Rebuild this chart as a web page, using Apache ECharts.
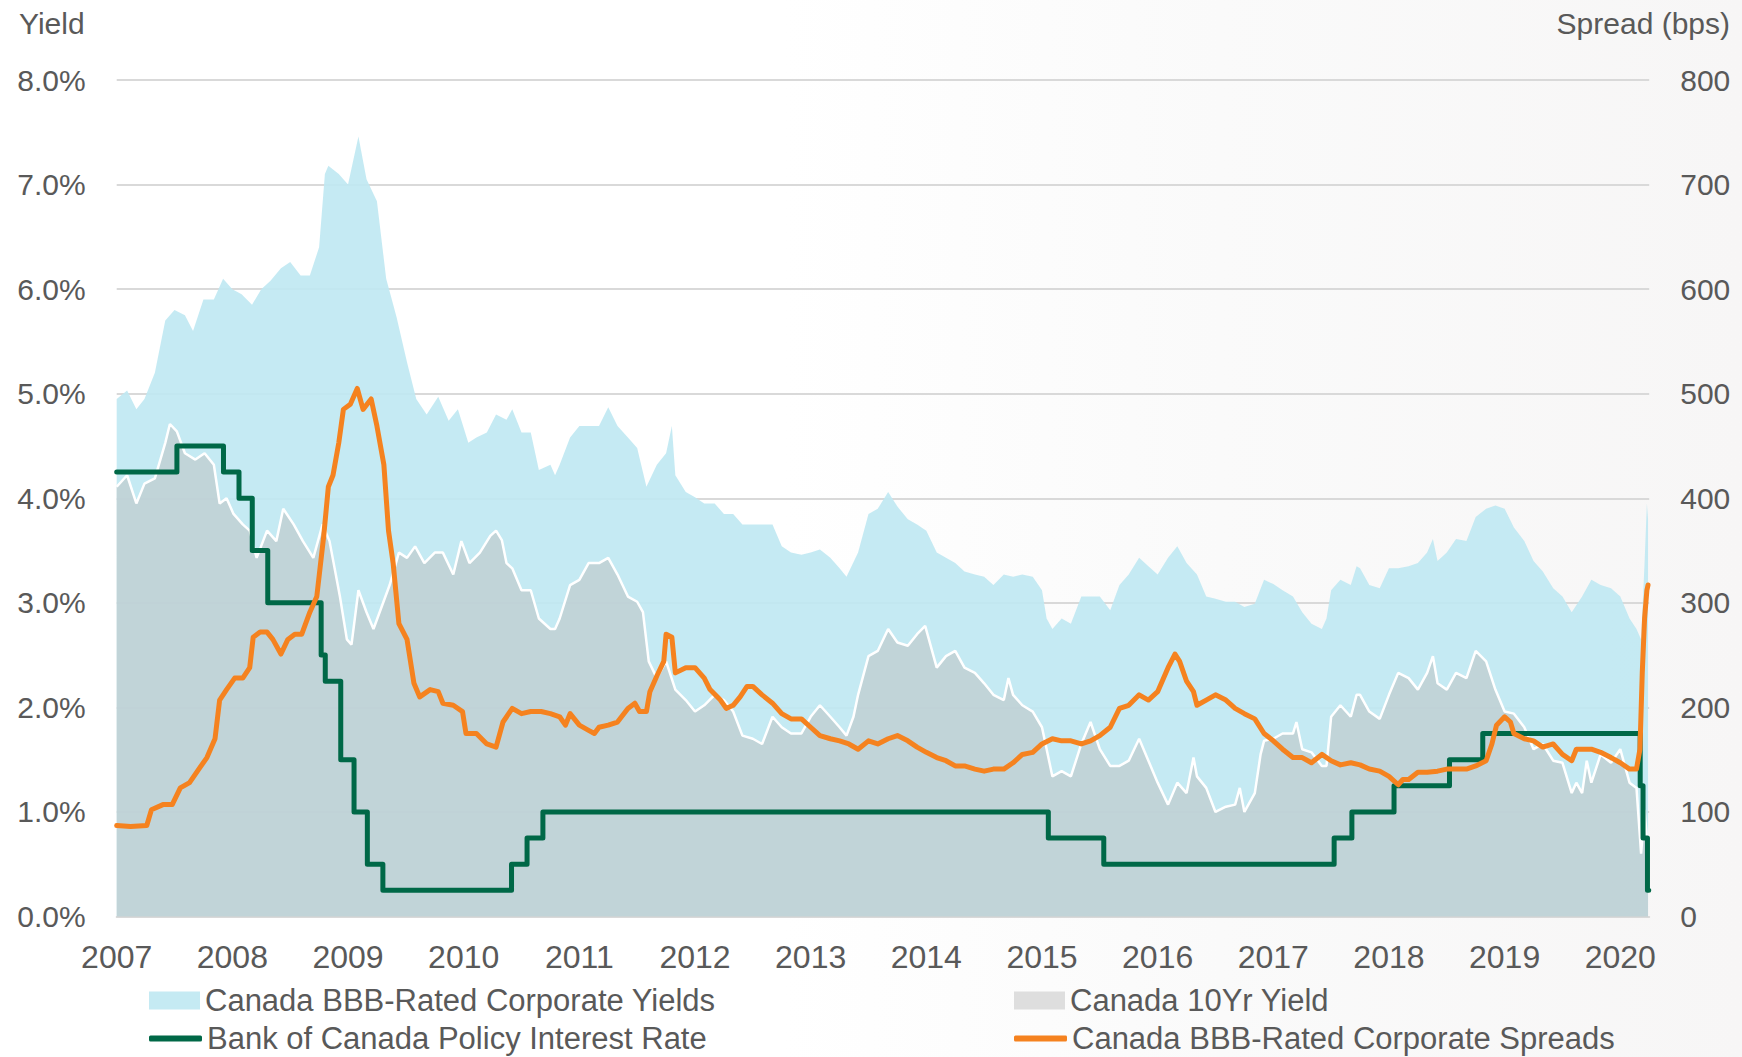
<!DOCTYPE html>
<html><head><meta charset="utf-8">
<script src="https://cdn.jsdelivr.net/npm/echarts@6/dist/echarts.min.js"></script>
<style>html,body{margin:0;padding:0;background:#fff}#c{width:1742px;height:1057px}</style>
</head><body><div id="c"></div>
<script>
// ---- DATA (x values are decimal years) ----
const bbbYears = [2007.00,2007.09,2007.17,2007.24,2007.33,2007.42,2007.50,2007.59,2007.66,2007.75,2007.84,2007.92,
2008.00,2008.08,2008.17,2008.25,2008.33,2008.42,2008.50,2008.59,2008.67,2008.75,2008.80,2008.83,2008.92,
2009.00,2009.09,2009.16,2009.25,2009.33,2009.42,2009.51,2009.59,2009.68,2009.78,2009.87,2009.95,
2010.04,2010.11,2010.20,2010.28,2010.37,2010.42,2010.50,2010.58,2010.65,2010.75,2010.79,2010.83,2010.92,
2011.00,2011.08,2011.17,2011.25,2011.33,2011.42,2011.50,2011.58,2011.67,2011.75,2011.80,2011.83,2011.92,
2012.00,2012.08,2012.17,2012.25,2012.33,2012.41,2012.50,2012.58,2012.67,2012.75,2012.83,2012.92,
2013.00,2013.08,2013.17,2013.25,2013.31,2013.41,2013.50,2013.58,2013.67,2013.75,2013.84,2013.92,
2014.00,2014.09,2014.17,2014.25,2014.33,2014.42,2014.50,2014.58,2014.67,2014.75,2014.83,2014.92,
2015.00,2015.04,2015.09,2015.17,2015.25,2015.34,2015.42,2015.50,2015.59,2015.67,2015.75,2015.84,2015.92,
2016.00,2016.09,2016.17,2016.25,2016.34,2016.42,2016.50,2016.59,2016.67,2016.75,2016.84,2016.92,
2017.00,2017.08,2017.17,2017.25,2017.33,2017.42,2017.46,2017.50,2017.58,2017.67,2017.72,2017.75,2017.83,2017.92,
2018.00,2018.08,2018.17,2018.25,2018.33,2018.38,2018.42,2018.50,2018.58,2018.67,2018.75,2018.84,2018.92,
2019.00,2019.08,2019.17,2019.25,2019.33,2019.42,2019.50,2019.58,2019.67,2019.75,2019.83,2019.92,
2020.00,2020.08,2020.14,2020.18,2020.21,2020.23,2020.24];
const bbbYield = [4.95,5.03,4.85,4.95,5.2,5.7,5.8,5.75,5.6,5.9,5.9,6.1,
6.0,5.95,5.85,6.0,6.08,6.2,6.26,6.13,6.13,6.4,7.1,7.18,7.1,
7.0,7.46,7.05,6.84,6.1,5.73,5.3,4.95,4.8,4.97,4.74,4.85,
4.53,4.58,4.63,4.8,4.75,4.85,4.63,4.63,4.27,4.32,4.22,4.32,4.58,
4.69,4.69,4.69,4.87,4.69,4.58,4.48,4.11,4.32,4.43,4.69,4.22,4.06,
4.01,3.95,3.95,3.85,3.85,3.75,3.75,3.75,3.75,3.54,3.48,3.46,
3.48,3.51,3.43,3.33,3.25,3.48,3.85,3.9,4.06,3.92,3.8,3.75,
3.69,3.48,3.43,3.38,3.3,3.27,3.25,3.17,3.27,3.25,3.27,3.25,
3.12,2.85,2.75,2.85,2.8,3.06,3.06,3.06,2.93,3.17,3.27,3.43,3.35,
3.27,3.43,3.54,3.38,3.27,3.06,3.04,3.01,3.01,2.96,2.99,3.22,
3.18,3.12,3.06,2.91,2.8,2.75,2.85,3.12,3.22,3.17,3.35,3.33,3.17,3.14,
3.33,3.33,3.35,3.38,3.48,3.61,3.4,3.48,3.61,3.59,3.82,3.9,3.93,
3.9,3.72,3.59,3.4,3.3,3.14,3.06,2.91,3.06,3.22,3.17,3.14,
3.06,2.85,2.75,2.65,3.38,3.95,3.8];

const tenYrYears = [2007.00,2007.09,2007.17,2007.24,2007.33,2007.42,2007.46,2007.52,2007.59,2007.68,2007.76,2007.84,2007.89,2007.95,
2008.01,2008.09,2008.15,2008.21,2008.30,2008.38,2008.44,2008.53,2008.61,2008.70,2008.78,2008.84,2008.93,2008.99,
2009.03,2009.09,2009.16,2009.22,2009.29,2009.36,2009.44,2009.51,2009.58,2009.66,2009.75,2009.82,2009.91,2009.98,
2010.05,2010.14,2010.23,2010.28,2010.33,2010.37,2010.42,2010.50,2010.58,2010.65,2010.75,2010.79,2010.83,2010.92,
2011.00,2011.08,2011.17,2011.25,2011.33,2011.42,2011.50,2011.55,2011.60,2011.67,2011.75,2011.83,2011.92,
2012.00,2012.08,2012.17,2012.25,2012.33,2012.41,2012.50,2012.58,2012.67,2012.75,2012.83,2012.92,
2013.00,2013.08,2013.17,2013.25,2013.31,2013.37,2013.41,2013.50,2013.58,2013.67,2013.75,2013.84,2013.92,2013.99,
2014.09,2014.17,2014.25,2014.33,2014.42,2014.50,2014.58,2014.67,2014.71,2014.75,2014.83,2014.92,
2015.00,2015.09,2015.17,2015.25,2015.34,2015.42,2015.50,2015.59,2015.67,2015.75,2015.84,2015.92,
2016.00,2016.09,2016.17,2016.25,2016.31,2016.34,2016.42,2016.50,2016.59,2016.67,2016.71,2016.75,2016.84,2016.89,2016.92,
2017.00,2017.08,2017.17,2017.20,2017.25,2017.33,2017.42,2017.46,2017.50,2017.58,2017.67,2017.72,2017.75,2017.83,2017.92,
2018.00,2018.08,2018.17,2018.25,2018.33,2018.38,2018.42,2018.50,2018.58,2018.67,2018.75,2018.84,2018.92,
2019.00,2019.08,2019.17,2019.25,2019.33,2019.42,2019.50,2019.58,2019.62,2019.67,2019.71,2019.75,2019.83,2019.92,
2020.00,2020.08,2020.14,2020.18,2020.21,2020.23,2020.24];
const tenYrYield = [4.11,4.22,3.95,4.14,4.19,4.53,4.71,4.64,4.43,4.37,4.43,4.32,3.95,4.0,
3.85,3.75,3.69,3.43,3.69,3.59,3.9,3.75,3.59,3.43,3.75,3.59,3.06,2.65,
2.6,3.12,2.91,2.75,2.96,3.17,3.48,3.43,3.54,3.38,3.48,3.48,3.27,3.59,
3.38,3.48,3.64,3.69,3.6,3.38,3.33,3.12,3.12,2.85,2.75,2.75,2.85,3.17,
3.22,3.38,3.38,3.43,3.27,3.06,3.01,2.91,2.44,2.28,2.44,2.17,2.07,
1.96,2.02,2.12,2.07,1.96,1.73,1.7,1.65,1.91,1.81,1.75,1.75,
1.91,2.02,1.91,1.81,1.73,1.91,2.12,2.49,2.54,2.75,2.62,2.59,2.7,2.78,
2.38,2.49,2.54,2.38,2.33,2.23,2.12,2.07,2.28,2.12,2.02,1.96,
1.81,1.34,1.39,1.34,1.65,1.86,1.6,1.44,1.44,1.49,1.7,1.49,
1.28,1.07,1.28,1.18,1.52,1.34,1.23,1.0,1.05,1.07,1.23,1.0,1.18,1.55,1.68,
1.7,1.75,1.75,1.86,1.6,1.57,1.44,1.44,1.91,2.02,1.91,2.12,2.12,1.96,1.89,
2.12,2.33,2.28,2.17,2.33,2.49,2.23,2.17,2.33,2.28,2.54,2.44,2.17,
1.96,1.94,1.81,1.6,1.65,1.49,1.47,1.18,1.28,1.18,1.49,1.28,1.55,1.47,
1.6,1.28,1.23,0.6,1.02,0.75,0.71];

const spreadYears = [2007.00,2007.12,2007.26,2007.30,2007.40,2007.48,2007.55,2007.63,2007.71,2007.78,2007.85,2007.89,2007.95,
2008.02,2008.09,2008.15,2008.18,2008.24,2008.30,2008.35,2008.42,2008.48,2008.54,2008.60,2008.67,2008.73,2008.79,2008.83,2008.87,2008.92,2008.96,
2009.02,2009.08,2009.13,2009.20,2009.25,2009.31,2009.35,2009.39,2009.44,2009.51,2009.57,2009.62,2009.71,2009.78,2009.82,2009.91,2009.99,
2010.02,2010.11,2010.20,2010.28,2010.34,2010.42,2010.50,2010.58,2010.67,2010.75,2010.83,2010.88,2010.92,
2011.00,2011.08,2011.13,2011.17,2011.25,2011.33,2011.42,2011.48,2011.52,2011.58,2011.61,2011.67,2011.73,2011.75,2011.80,2011.83,2011.92,
2012.00,2012.08,2012.13,2012.22,2012.27,2012.33,2012.39,2012.45,2012.50,2012.58,2012.67,2012.75,2012.83,2012.92,
2013.00,2013.08,2013.17,2013.25,2013.33,2013.41,2013.50,2013.58,2013.67,2013.75,2013.84,2013.92,
2014.00,2014.09,2014.17,2014.25,2014.33,2014.42,2014.50,2014.58,2014.67,2014.75,2014.83,2014.92,
2015.00,2015.09,2015.17,2015.25,2015.34,2015.42,2015.50,2015.59,2015.67,2015.75,2015.84,2015.92,
2016.00,2016.09,2016.15,2016.19,2016.25,2016.31,2016.34,2016.42,2016.50,2016.59,2016.67,2016.75,2016.84,2016.92,
2017.00,2017.08,2017.17,2017.25,2017.33,2017.42,2017.50,2017.58,2017.67,2017.75,2017.83,2017.92,
2018.00,2018.08,2018.12,2018.17,2018.25,2018.33,2018.42,2018.50,2018.58,2018.67,2018.75,2018.84,2018.89,2018.93,
2019.00,2019.05,2019.08,2019.17,2019.25,2019.33,2019.42,2019.50,2019.58,2019.62,2019.67,2019.75,2019.83,2019.92,
2020.00,2020.08,2020.14,2020.17,2020.19,2020.21,2020.23,2020.24];
const spreadBps = [87,86,87,102,107,107,123,128,141,152,170,207,217,
228,228,238,267,272,272,265,251,265,270,270,291,306,364,411,422,453,485,
490,505,485,495,469,432,369,338,280,265,223,210,217,215,204,202,196,
175,175,165,162,186,199,194,196,196,194,191,183,194,
183,178,175,181,183,186,199,204,196,196,215,230,244,270,267,233,238,
238,228,217,207,199,202,210,220,220,212,204,194,189,189,
181,173,170,168,165,160,168,165,170,173,168,162,
157,152,149,144,144,141,139,141,141,147,155,157,
165,170,168,168,165,168,173,181,199,202,212,207,
215,238,251,244,225,215,202,207,212,207,199,194,189,175,
168,160,152,152,147,155,149,145,147,145,141,139,
134,126,131,131,138,138,139,141,141,141,144,149,165,183,
191,186,175,170,168,162,165,155,149,160,160,160,157,152,
147,141,141,160,233,285,312,317];

const policyDates = ['2007-01-01','2007-07-10','2007-12-04','2008-01-22','2008-03-04','2008-04-22','2008-10-08','2008-10-21',
'2008-12-09','2009-01-20','2009-03-03','2009-04-21','2010-06-01','2010-07-20','2010-09-08','2015-01-21','2015-07-15',
'2017-07-12','2017-09-06','2018-01-17','2018-07-11','2018-10-24','2020-03-04','2020-03-13','2020-03-27','2020-03-31'];
const policyRate = [4.25,4.5,4.25,4.0,3.5,3.0,2.5,2.25,1.5,1.0,0.5,0.25,0.5,0.75,1.0,0.75,0.5,0.75,1.0,1.25,1.5,1.75,1.25,0.75,0.25,0.25];

const yearTickLabels = [2007,2008,2009,2010,2011,2012,2013,2014,2015,2016,2017,2018,2019,2020];
const seriesNames = ['Canada BBB-Rated Corporate Yields','Canada 10Yr Yield','Bank of Canada Policy Interest Rate','Canada BBB-Rated Corporate Spreads'];

// ---- helpers ----
function toYear(s){
  const [y,m,d] = s.split('-').map(Number);
  const start = Date.UTC(y,0,1), end = Date.UTC(y+1,0,1);
  return y + (Date.UTC(y,m-1,d) - start)/(end-start);
}
const zip = (xs, ys) => xs.map((x,i)=>[x, ys[i]]);

const TXT = '#595959';
const FONT = '"Liberation Sans", Arial, sans-serif';

const chart = echarts.init(document.getElementById('c'), null, {renderer:'svg'});
const legendBase = {
  orient:'horizontal', padding:0, itemGap:0, selectedMode:false,
  itemStyle:{borderWidth:0},
  textStyle:{color:TXT, fontSize:31, fontFamily:FONT, lineHeight:31}
};
chart.setOption({
  animation:false,
  backgroundColor:{type:'linear',x:0,y:0,x2:1,y2:0,colorStops:[
    {offset:0,color:'#ffffff'},{offset:0.45,color:'#ffffff'},{offset:0.7,color:'#fafafa'},{offset:1,color:'#f7f6f6'}]},
  grid:{left:116.7, right:92.8, top:80, bottom:140.5, containLabel:false},
  graphic:[
    {type:'text', left:19, top:8, style:{text:'Yield', fill:TXT, font:'30px '+FONT}},
    {type:'text', right:12, top:8, style:{text:'Spread (bps)', fill:TXT, font:'30px '+FONT}}
  ],
  xAxis:{
    type:'value', min:2007, max:2020.25, interval:1,
    axisLine:{show:true, lineStyle:{color:'#d9d9d9', width:2}},
    axisTick:{show:false}, splitLine:{show:false},
    axisLabel:{color:TXT, fontSize:32, fontFamily:FONT, margin:24,
      formatter:v => yearTickLabels.includes(Math.round(v*1000)/1000) ? String(Math.round(v)) : ''}
  },
  yAxis:[
    {type:'value', min:0, max:8, interval:1, position:'left',
     axisLine:{show:false}, axisTick:{show:false},
     splitLine:{show:true, lineStyle:{color:'#d9d9d9', width:2}},
     axisLabel:{color:TXT, fontSize:30, fontFamily:FONT, margin:31, formatter:v=>v.toFixed(1)+'%'}},
    {type:'value', min:0, max:800, interval:100, position:'right',
     axisLine:{show:false}, axisTick:{show:false}, splitLine:{show:false},
     axisLabel:{color:TXT, fontSize:30, fontFamily:FONT, margin:31, formatter:v=>String(v)}}
  ],
  legend:[
    Object.assign({}, legendBase, {left:149, top:985, itemWidth:51, itemHeight:18, icon:'rect', data:[seriesNames[0]]}),
    Object.assign({}, legendBase, {left:1014, top:985, itemWidth:51, itemHeight:18, icon:'rect', data:[seriesNames[1]]}),
    Object.assign({}, legendBase, {left:149, top:1023, itemWidth:53, itemHeight:6, icon:'roundRect', data:[seriesNames[2]]}),
    Object.assign({}, legendBase, {left:1014, top:1023, itemWidth:53, itemHeight:6, icon:'roundRect', data:[seriesNames[3]]})
  ],
  series:[
    {name:seriesNames[0], type:'line', xAxisIndex:0, yAxisIndex:0, data:zip(bbbYears,bbbYield),
     symbol:'none', showSymbol:false, smooth:false,
     itemStyle:{color:'#c5eaf3'}, lineStyle:{width:0, color:'#c5eaf3'},
     areaStyle:{color:'rgba(191,232,242,0.9)', opacity:1}, z:1},
    {name:seriesNames[1], type:'line', xAxisIndex:0, yAxisIndex:0, data:zip(tenYrYears,tenYrYield),
     symbol:'none', showSymbol:false,
     itemStyle:{color:'#dedede'}, lineStyle:{width:2.5, color:'#ffffff'},
     areaStyle:{color:'rgba(189,189,189,0.5)', opacity:1}, z:2},
    {name:seriesNames[2], type:'line', xAxisIndex:0, yAxisIndex:0, step:'end',
     data:zip(policyDates.map(toYear), policyRate),
     symbol:'none', showSymbol:false,
     itemStyle:{color:'#006847'}, lineStyle:{width:5, color:'#006847', join:'round', cap:'round'}, z:3},
    {name:seriesNames[3], type:'line', xAxisIndex:0, yAxisIndex:1, data:zip(spreadYears,spreadBps),
     symbol:'none', showSymbol:false,
     itemStyle:{color:'#f5821f'}, lineStyle:{width:5, color:'#f5821f', join:'round', cap:'round'}, z:4}
  ]
});
</script>
</body></html>
